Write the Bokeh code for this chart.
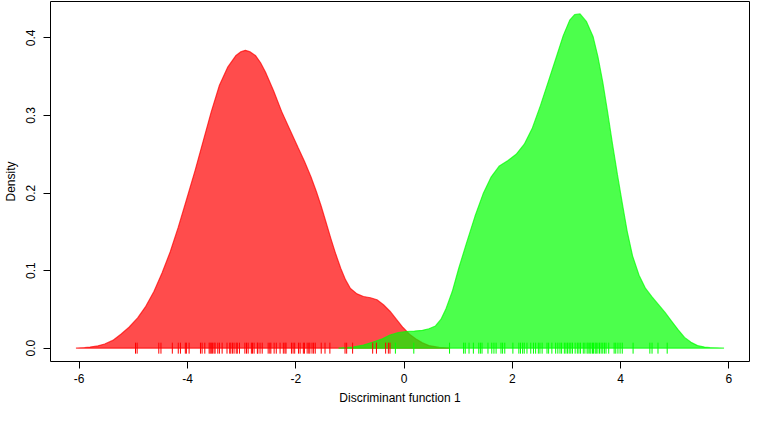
from bokeh.plotting import figure
from bokeh.models import Range1d, FixedTicker
from bokeh.embed import file_html
from bokeh.resources import INLINE
import math

# Density curve of group 1 (red)
red_x = [-6.06, -5.90, -5.80, -5.65, -5.53, -5.38, -5.23, -5.08, -4.92, -4.77, -4.62,
         -4.47, -4.32, -4.17, -4.02, -3.86, -3.71, -3.56, -3.41, -3.26, -3.11, -3.02,
         -2.93, -2.84, -2.74, -2.65, -2.56, -2.41, -2.26, -2.11, -1.96, -1.84, -1.72,
         -1.62, -1.53, -1.44, -1.35, -1.26, -1.17, -1.08, -0.99, -0.87, -0.75, -0.62,
         -0.50, -0.38, -0.26, -0.14, -0.02, 0.10, 0.22, 0.34, 0.46, 0.65, 0.85]
red_y = [0.0, 0.0008, 0.0015, 0.003, 0.0054, 0.010, 0.018, 0.027, 0.039, 0.054, 0.073,
         0.097, 0.124, 0.156, 0.191, 0.229, 0.267, 0.305, 0.339, 0.362, 0.377, 0.382,
         0.384, 0.382, 0.377, 0.368, 0.356, 0.332, 0.305, 0.282, 0.259, 0.241, 0.221,
         0.202, 0.183, 0.162, 0.141, 0.121, 0.103, 0.088, 0.077, 0.070, 0.0666, 0.065,
         0.0624, 0.056, 0.0476, 0.037, 0.0266, 0.018, 0.0118, 0.0068, 0.0033, 0.001, 0.0]

# Density curve of group 2 (green)
green_x = [-1.21, -1.08, -0.95, -0.75, -0.57, -0.40, -0.26, -0.11, 0.04, 0.19, 0.34,
           0.46, 0.58, 0.68, 0.77, 0.89, 1.01, 1.16, 1.31, 1.46, 1.61, 1.76, 1.92, 2.07,
           2.22, 2.37, 2.52, 2.67, 2.82, 2.94, 3.06, 3.15, 3.25, 3.37, 3.49, 3.58, 3.67,
           3.76, 3.85, 3.94, 4.03, 4.12, 4.22, 4.34, 4.46, 4.58, 4.70, 4.82, 4.94, 5.06,
           5.18, 5.30, 5.42, 5.55, 5.65, 5.91]
green_y = [0.0, 0.0008, 0.0015, 0.004, 0.008, 0.012, 0.017, 0.020, 0.0215, 0.022, 0.023,
           0.025, 0.0286, 0.037, 0.050, 0.073, 0.103, 0.137, 0.170, 0.199, 0.221, 0.235,
           0.242, 0.250, 0.263, 0.284, 0.313, 0.345, 0.377, 0.403, 0.423, 0.430, 0.431,
           0.421, 0.402, 0.376, 0.343, 0.304, 0.263, 0.224, 0.187, 0.151, 0.119, 0.094,
           0.077, 0.066, 0.056, 0.046, 0.035, 0.024, 0.0139, 0.0075, 0.0033, 0.0015,
           0.0008, 0.0]

# Rug values (individual scores)
red_rug = [-4.96, -4.93, -4.53, -4.49, -4.28, -4.17, -4.13, -4.04, -4.02, -3.97, -3.76,
           -3.73, -3.68, -3.60, -3.58, -3.56, -3.54, -3.51, -3.49, -3.44, -3.41, -3.36,
           -3.27, -3.22, -3.20, -3.17, -3.14, -3.10, -3.08, -3.04, -2.94, -2.91, -2.88,
           -2.82, -2.80, -2.77, -2.71, -2.70, -2.66, -2.62, -2.51, -2.48, -2.46, -2.40,
           -2.36, -2.29, -2.23, -2.20, -2.18, -2.08, -2.05, -2.02, -1.95, -1.92, -1.86,
           -1.84, -1.79, -1.76, -1.74, -1.70, -1.67, -1.64, -1.53, -1.46, -1.37, -1.09,
           -1.06, -0.95, -0.58, -0.51, -0.34, -0.29, -0.26]
green_rug = [-0.16, 0.18, 0.84, 1.10, 1.13, 1.20, 1.28, 1.38, 1.41, 1.44, 1.55, 1.62,
             1.66, 1.70, 1.79, 1.82, 1.86, 2.01, 2.12, 2.15, 2.19, 2.22, 2.27, 2.34,
             2.39, 2.43, 2.48, 2.51, 2.55, 2.64, 2.67, 2.73, 2.80, 2.84, 2.88, 2.91,
             2.96, 2.99, 3.02, 3.05, 3.08, 3.11, 3.16, 3.20, 3.23, 3.26, 3.31, 3.34,
             3.38, 3.40, 3.43, 3.45, 3.48, 3.50, 3.53, 3.55, 3.58, 3.61, 3.64, 3.67,
             3.70, 3.73, 3.78, 3.88, 3.91, 3.95, 3.99, 4.03, 4.23, 4.54, 4.58, 4.69, 4.86]

x_ticks = [-6, -4, -2, 0, 2, 4, 6]
y_ticks = [0.0, 0.1, 0.2, 0.3, 0.4]
y_tick_labels = ["0.0", "0.1", "0.2", "0.3", "0.4"]

FONT = "Liberation Sans"

p = figure(width=751, height=407, output_backend="svg", toolbar_location=None,
           x_range=Range1d(-6.53, 6.38), y_range=Range1d(-0.0172, 0.447),
           min_border_left=47, min_border_right=2, min_border_top=1, min_border_bottom=40)
p.grid.visible = False
p.outline_line_color = "black"
p.outline_line_width = 1
p.background_fill_color = "white"
p.border_fill_color = "white"

p.patch(red_x, red_y, fill_color="red", fill_alpha=0.7, line_color="red", line_alpha=0.7, line_width=1.2)
p.patch(green_x, green_y, fill_color="#00ff00", fill_alpha=0.7, line_color="#00ff00", line_alpha=0.7, line_width=1.2)

p.scatter(red_rug, [0] * len(red_rug), marker="dash", angle=math.pi / 2, size=11,
          line_color="red", line_width=1)
p.scatter(green_rug, [0] * len(green_rug), marker="dash", angle=math.pi / 2, size=11,
          line_color="#00ff00", line_width=1)

p.xaxis.ticker = FixedTicker(ticks=x_ticks)
p.yaxis.ticker = FixedTicker(ticks=y_ticks)
p.yaxis.major_label_overrides = {t: l for t, l in zip(y_ticks, y_tick_labels)}
p.xaxis.major_label_overrides = {t: str(t) for t in x_ticks}

for ax in (p.xaxis[0], p.yaxis[0]):
    ax.axis_line_color = None
    ax.major_tick_line_color = "black"
    ax.major_tick_out = 7
    ax.major_tick_in = 0
    ax.minor_tick_line_color = None
    ax.major_label_text_font = FONT
    ax.major_label_text_font_size = "12px"
    ax.major_label_text_color = "black"
    ax.axis_label_text_font = FONT
    ax.axis_label_text_font_size = "12px"
    ax.axis_label_text_font_style = "normal"
    ax.axis_label_text_color = "black"

p.xaxis.axis_label = "Discriminant function 1"
p.yaxis.axis_label = "Density"
p.yaxis.major_label_orientation = "vertical"
p.xaxis.major_label_standoff = 5
p.yaxis.major_label_standoff = 8
p.xaxis.axis_label_standoff = 5
p.yaxis.axis_label_standoff = 6

open("out.html", "w").write(file_html(p, INLINE))
